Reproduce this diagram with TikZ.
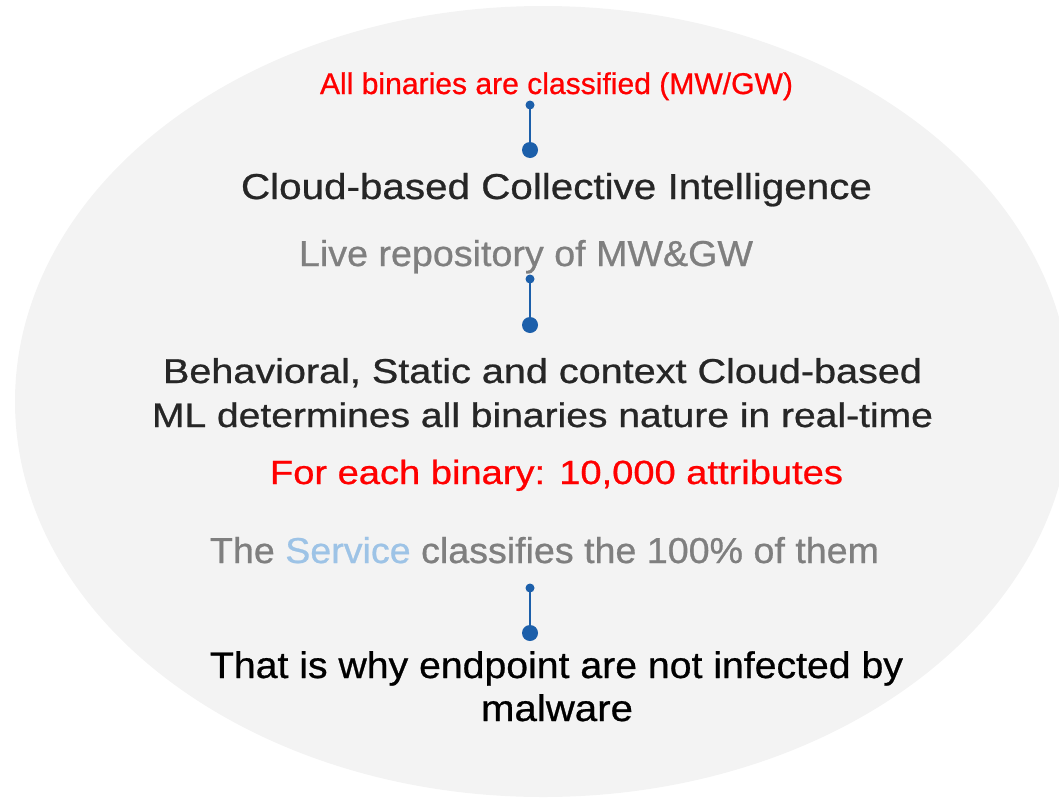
\documentclass[tikz,border=0pt]{standalone}
\usepackage{fontspec}
\setmainfont{Liberation Sans}[FakeBold=0.7]
\usepackage{graphicx}
\definecolor{bubble}{HTML}{F3F3F3}
\definecolor{linkblue}{HTML}{1C5FAA}
\definecolor{darktext}{HTML}{262626}
\definecolor{softgray}{HTML}{7F7F7F}
\definecolor{alertred}{HTML}{FF0000}
\definecolor{servblue}{HTML}{9DC3E6}
% set a line at a given font size, stretched to a given width
\newcommand\fitw[3]{\resizebox{#1pt}{\height}{\fontsize{#2}{#2}\selectfont #3}}
\begin{document}
\begin{tikzpicture}[x=1pt,y=-1pt,
  txt/.style={inner sep=0pt, anchor=base},
  link/.style={draw=linkblue, line width=2.4pt}]
\useasboundingbox (0,0) rectangle (1059,798);
% background bubble
\fill[bubble] (543,401.5) ellipse [x radius=528, y radius=395.5];

% texts
\node[txt, text=alertred] (classified) at (556.5,94) {\fitw{473}{30}{All binaries are classified (MW/GW)}};
\node[txt, text=darktext] (cloud) at (556.5,199) {\fitw{631}{36}{Cloud-based Collective Intelligence}};
\node[txt, text=softgray] (repo) at (526,266) {\fitw{454}{36}{Live repository of MW\&GW}};
\node[txt, text=darktext] (ml1) at (542.5,383) {\fitw{759}{34.5}{Behavioral, Static and context Cloud-based}};
\node[txt, text=darktext] (ml2) at (542.5,427) {\fitw{781}{34}{ML determines all binaries nature in real-time}};
\node[txt, text=alertred] (attrs) at (556.5,484) {\fitw{573}{33.5}{For each binary: 10,000 attributes}};
\node[txt, text=softgray] (service) at (544.5,563) {\fitw{669}{36}{The \textcolor{servblue}{Service} classifies the 100\% of them}};
\node[txt, text=black] (end1) at (556.5,678) {\fitw{693}{37}{That is why endpoint are not infected by}};
\node[txt, text=black] (end2) at (557,721) {\fitw{152}{37}{malware}};

% connectors
\coordinate (t1) at (530,105);
\coordinate (b1) at (530,150);
\coordinate (t2) at (530,279);
\coordinate (b2) at (530,325);
\coordinate (t3) at (530,588);
\coordinate (b3) at (530,633);
\foreach \a/\b in {t1/b1, t2/b2, t3/b3}{
  \draw[link] (\a) -- (\b);
  \fill[linkblue] (\a) circle[radius=4.5];
  \fill[linkblue] (\b) circle[radius=8];
}
\end{tikzpicture}
\end{document}
